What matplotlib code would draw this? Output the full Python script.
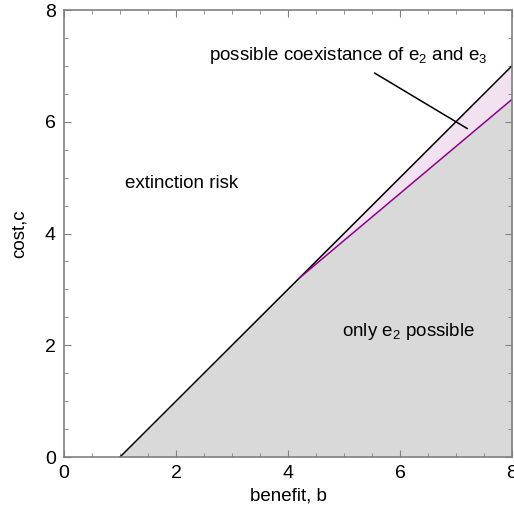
import numpy as np
import matplotlib.pyplot as plt
from matplotlib.ticker import MultipleLocator

plt.rcParams['font.family'] = ['Liberation Sans', 'DejaVu Sans']
plt.rcParams['mathtext.fontset'] = 'custom'
plt.rcParams['mathtext.rm'] = 'Liberation Sans'
plt.rcParams['mathtext.it'] = 'Liberation Sans:italic'

# boundary of extinction region: c = b - 1
b_black = [1.0, 8.0]
c_black = [0.0, 7.0]

# lower boundary of coexistence region
b_purple = [4.2, 8.0]
c_purple = [3.2, 6.4]

fig = plt.figure(figsize=(5.14, 5.16), dpi=100)
ax = fig.add_axes([0.1245, 0.1143, 0.8715, 0.8663])

# gray: only e2 possible
b_fill = [1.0, 4.2, 8.0]
c_fill = [0.0, 3.2, 6.4]
ax.fill_between(b_fill, 0, c_fill, color='#d9d9d9', lw=0)
# pink: coexistence between purple and black lines
bp = np.array(b_purple)
ax.fill_between(bp, c_purple, bp - 1, color='#f2e1f1', lw=0)

ax.plot(b_black, c_black, color='black', lw=1.1)
ax.plot(b_purple, c_purple, color='#8b008b', lw=1.1)

# annotation pointer
ax.plot([5.55, 7.2], [6.87, 5.88], color='black', lw=1.1)

ax.text(5.07, 7.19, r'possible coexistance of e$_\mathregular{2}$ and e$_\mathregular{3}$',
        ha='center', va='center', fontsize=13.5)
ax.text(2.1, 4.9, 'extinction risk', ha='center', va='center', fontsize=13.5)
ax.text(6.16, 2.25, r'only e$_\mathregular{2}$ possible', ha='center', va='center', fontsize=13.5)

ax.set_xlim(0, 8)
ax.set_ylim(0, 8)
ax.xaxis.set_major_locator(MultipleLocator(2))
ax.yaxis.set_major_locator(MultipleLocator(2))
ax.xaxis.set_minor_locator(MultipleLocator(0.5))
ax.yaxis.set_minor_locator(MultipleLocator(0.5))
ax.tick_params(which='both', direction='in', top=True, right=True, color='#808080', labelsize=14)
ax.tick_params(which='major', length=5, pad=6)
ax.tick_params(which='minor', length=3)
for s in ax.spines.values():
    s.set_color('#808080')
    s.set_linewidth(1.2)

ax.set_xlabel('benefit, b', fontsize=13.5, labelpad=4)
ax.set_ylabel('cost,c', fontsize=13.5, labelpad=12)

fig.savefig('out.png', dpi=100)
